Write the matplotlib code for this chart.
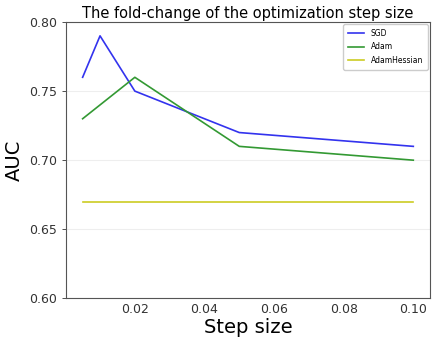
import matplotlib.pyplot as plt

step_sizes = [0.005, 0.01, 0.02, 0.05, 0.1]
sgd = [0.76, 0.79, 0.75, 0.72, 0.71]
adam = [0.73, 0.74, 0.76, 0.71, 0.70]
adam_hessian = [0.67, 0.67, 0.67, 0.67, 0.67]

fig, ax = plt.subplots(figsize=(4.32, 3.39), dpi=100)
fig.subplots_adjust(left=0.153, right=0.995, top=0.935, bottom=0.12)

ax.plot(step_sizes, sgd, color="#3333ee", lw=1.2, label="SGD")
ax.plot(step_sizes, adam, color="#339933", lw=1.2, label="Adam")
ax.plot(step_sizes, adam_hessian, color="#cccc22", lw=1.2, label="AdamHessian")

ax.set_ylim(0.6, 0.8)
ax.set_yticks([0.6, 0.65, 0.7, 0.75, 0.8])
ax.set_xticks([0.02, 0.04, 0.06, 0.08, 0.10])
ax.set_xticklabels(["0.02", "0.04", "0.06", "0.08", "0.10"])
ax.yaxis.grid(True, color="#eeeeee", lw=0.8)
ax.set_axisbelow(True)
for s in ax.spines.values():
    s.set_color("#555555")
ax.tick_params(axis="both", labelsize=9, colors="#333333", length=3, width=0.6)
ax.tick_params(axis="x", length=0)

ax.set_xlabel("Step size", fontsize=14, labelpad=1)
ax.set_ylabel("AUC", fontsize=14)
ax.set_title("The fold-change of the optimization step size", fontsize=10.5, pad=3)
ax.legend(loc="upper right", fontsize=5.5, framealpha=1, labelspacing=0.6,
          borderpad=0.6, handlelength=2.2, borderaxespad=0.3)

fig.savefig("out.png")
